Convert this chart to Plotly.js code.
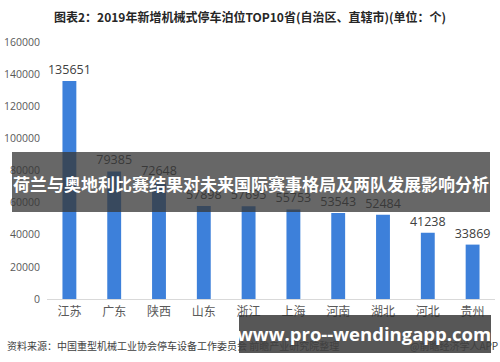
<!DOCTYPE html>
<html>
<head>
<meta charset="utf-8">
<script src="https://cdn.plot.ly/plotly-3.0.1.min.js"></script>
<style>html,body{margin:0;padding:0;background:#fff;}#chart{width:500px;height:362px;}</style>
</head>
<body>
<div id="chart"></div>
<script>
var provinces = ["江苏","广东","陕西","山东","浙江","上海","河南","湖北","河北","贵州"];
var berths = [135651, 79385, 72648, 57898, 57695, 55753, 53543, 52484, 41238, 33869];
var yTicks = [0, 20000, 40000, 60000, 80000, 100000, 120000, 140000, 160000];
var chartTitle = "图表2：2019年新增机械式停车泊位TOP10省(自治区、直辖市)(单位：个)";
var bannerText = "荷兰与奥地利比赛结果对未来国际赛事格局及两队发展影响分析";
var siteText = "www.pro--wendingapp.com";
var sourceText = "资料来源：中国重型机械工业协会停车设备工作委员会 前瞻产业研究院整理";
var creditText = "@前瞻经济学人APP";

var L = 47, R = 5, T = 42, B = 63, W = 500, H = 362;
var pw = W - L - R, ph = H - T - B;
function px(x){ return (x - L) / pw; }
function py(y){ return (H - B - y) / ph; }

var cjk = '"Noto Sans CJK SC", "Microsoft YaHei", sans-serif';

var trace = {
  type: 'bar',
  x: provinces,
  y: berths,
  text: berths.map(String),
  textposition: 'outside',
  constraintext: 'none',
  textfont: {family: '"Open Sans", "Noto Sans", sans-serif', size: 12.5, color: '#404040'},
  marker: {color: '#3d80da'},
  cliponaxis: false,
  hoverinfo: 'none'
};

var layout = {
  width: W, height: H,
  margin: {l: L, r: R, t: T, b: B},
  paper_bgcolor: '#ffffff',
  plot_bgcolor: '#ffffff',
  bargap: 0.69,
  showlegend: false,
  font: {family: cjk, color: '#595959'},
  uniformtext: {mode: false},
  xaxis: {
    showline: true, linecolor: '#d9d9d9', linewidth: 1,
    ticks: '', showgrid: false,
    tickfont: {family: cjk, size: 12, color: '#595959'},
    ticklabelstandoff: 2
  },
  yaxis: {
    range: [0, 160000],
    tickvals: yTicks,
    ticktext: yTicks.map(String),
    showgrid: false, zeroline: false, showline: false, ticks: '',
    tickfont: {family: '"Open Sans", "Noto Sans", sans-serif', size: 10.5, color: '#595959'},
    ticklabelstandoff: 6
  },
  shapes: [
    {type: 'rect', xref: 'paper', yref: 'paper', x0: px(12), x1: px(490), y0: py(212), y1: py(152),
     fillcolor: 'rgba(55,55,55,0.76)', line: {width: 0}, layer: 'above'},
    {type: 'rect', xref: 'paper', yref: 'paper', x0: px(239), x1: px(491), y0: py(353), y1: py(315),
     fillcolor: 'rgba(45,45,45,0.8)', line: {width: 0}, layer: 'above'}
  ],
  annotations: [
    {text: '<b>' + chartTitle + '</b>', xref: 'paper', yref: 'paper', x: px(250), y: py(17),
     xanchor: 'center', yanchor: 'middle', showarrow: false,
     font: {family: cjk, size: 12, color: '#262626'}},
    {text: '<b>' + bannerText + '</b>', xref: 'paper', yref: 'paper', x: px(251), y: py(183),
     xanchor: 'center', yanchor: 'middle', showarrow: false,
     font: {family: cjk, size: 17, color: '#ffffff'}},
    {text: sourceText, xref: 'paper', yref: 'paper', x: px(5), y: py(345),
     xanchor: 'left', yanchor: 'middle', showarrow: false,
     font: {family: cjk, size: 10, color: '#404040'}},
    {text: creditText, xref: 'paper', yref: 'paper', x: px(500), y: py(345),
     xanchor: 'right', yanchor: 'middle', showarrow: false,
     font: {family: cjk, size: 10, color: '#404040'}},
    {text: '<b>' + siteText + '</b>', xref: 'paper', yref: 'paper', x: px(364), y: py(333),
     xanchor: 'center', yanchor: 'middle', showarrow: false,
     font: {family: '"Open Sans", sans-serif', size: 18.5, color: '#ffffff'}}
  ]
};

Plotly.newPlot('chart', [trace], layout, {staticPlot: true, displayModeBar: false});
</script>
</body>
</html>
